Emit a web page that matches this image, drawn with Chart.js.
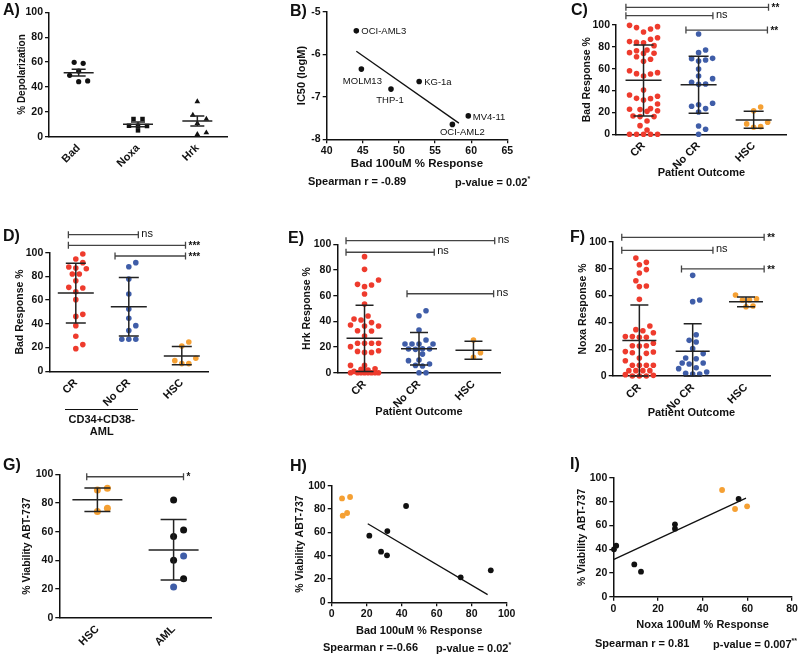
<!DOCTYPE html>
<html>
<head>
<meta charset="utf-8">
<script src="https://cdn.jsdelivr.net/npm/chart.js@4.4.1/dist/chart.umd.min.js"></script>
<style>
  body { margin: 0; background: #fff; width: 800px; height: 655px; position: relative; overflow: hidden;
         font-family: 'Liberation Sans', Arial, sans-serif; color: #111; }
  canvas { position: absolute; }
  .t { position: absolute; white-space: nowrap; line-height: 1; font-weight: bold; }
  .t sup { font-size: 7px; vertical-align: 5px; }
</style>
</head>
<body>
<script>
// ---- A) % depolarization per peptide
const aCats = ['Bad', 'Noxa', 'Hrk'];
const aBad = [59.8, 59.0, 52.8, 49.3, 44.2, 44.8];
const aNoxa = [8.8, 14.2, 14.2, 5.1, 8.6, 8.8];
const aHrk = [28.2, 17.4, 14.2, 10.7, 1.9, 3.2];
const aMean = [51.5, 10.0, 12.6];
const aHi = [54.2, 11.8, 16.6];
const aLo = [48.8, 8.0, 8.6];

// ---- B) cell lines, IC50 vs Bad response
const bLines = ['OCI-AML3', 'MOLM13', 'THP-1', 'KG-1a', 'MV4-11', 'OCI-AML2'];
const bBad = [44.1, 44.8, 48.9, 52.8, 59.6, 57.4];
const bIC50 = [-5.45, -6.35, -6.82, -6.64, -7.45, -7.65];
const bFitX = [44.1, 58.3];
const bFitY = [-5.93, -7.62];

// ---- C) Bad response by patient outcome
const outcomeCats = ['CR', 'No CR', 'HSC'];
const cCR = [98.5, 96.3, 93.6, 97.6, 99.7, 88.4, 84.8, 83.8, 84.1, 86.9, 81.1, 74.7, 74.1, 76.5, 71.0, 77.1,
  74.0, 68.6, 66.8, 56.4, 55.5, 53.4, 55.2, 58.2, 40.5, 36.0, 32.6, 31.4, 27.7, 32.9, 34.8, 23.5, 22.6, 21.0,
  21.6, 22.9, 16.8, 16.2, 16.2, 12.2, 7.9, 4.0, 0, 0, 0, 0, 0];
const cNoCR = [91.8, 77.1, 74.7, 69.5, 67.1, 68.0, 69.2, 59.8, 50.9, 53.4, 47.6, 46.0, 45.7, 28.4, 27.1, 25.6,
  23.5, 20.4, 7.6, 4.6, 0];
const cHSC = [25.0, 21.6, 9.5, 11.0, 7.0, 6.4];
const cMean = [49.4, 45.4, 13.1];
const cHi = [81.7, 71.5, 21.0];
const cLo = [16.8, 19.2, 5.5];

// ---- D) Bad response, CD34+CD38- AML
const dCR = [98.9, 94.7, 91.6, 87.9, 86.5, 87.1, 82.0, 82.0, 76.4, 70.8, 70.2, 67.1, 60.4, 48.0, 46.3, 38.5,
  29.5, 22.5, 19.1];
const dNoCR = [91.6, 88.2, 77.8, 65.2, 52.5, 44.7, 38.5, 34.3, 27.0, 27.0, 27.0];
const dHSC = [24.7, 21.3, 9.0, 11.0, 6.5, 6.5];
const dMean = [66.0, 54.5, 13.0];
const dHi = [91.0, 79.0, 21.0];
const dLo = [40.7, 29.8, 5.5];

// ---- E) Hrk response
const eCR = [90.4, 80.5, 68.8, 68.3, 67.0, 72.2, 61.3, 53.5, 41.8, 39.0, 41.0, 44.2, 36.4, 32.5, 32.7, 36.4,
  37.1, 28.6, 22.9, 22.9, 22.9, 22.9, 20.3, 17.1, 15.8, 15.8, 16.6, 5.7, 5.7, 3.1, 2.0, 1.0, 1.5, 2.6,
  0, 0, 0, 0, 0, 0, 0, 0];
const eNoCR = [48.3, 44.4, 33.2, 22.3, 22.3, 22.3, 22.3, 25.5, 18.2, 18.7, 14.5, 18.4, 18.4, 9.9, 9.4, 6.8,
  5.2, 5.7, 0, 0];
const eHSC = [25.5, 15.6, 12.0];
const eMean = [26.8, 18.7, 17.5];
const eHi = [52.5, 31.4, 24.4];
const eLo = [1.0, 6.0, 10.4];

// ---- F) Noxa response
const fCR = [88.0, 84.8, 83.0, 79.4, 76.9, 71.1, 66.7, 67.2, 57.2, 34.6, 33.8, 37.3, 32.3, 29.4, 29.4, 28.9,
  28.9, 22.6, 22.6, 24.4, 22.4, 17.9, 17.4, 16.9, 18.2, 13.4, 11.4, 8, 8, 8, 8, 4, 4, 4, 4, 0.5, 0, 0, 0, 1];
const fNoCR = [75.1, 55.5, 56.7, 30.8, 26.6, 25.4, 20.4, 16.7, 13.4, 12.9, 9.7, 9.7, 9.0, 6.2, 5.5, 3.0, 2.0,
  1.5, 1.5];
const fHSC = [60.4, 56.7, 57.7, 56.7, 51.7, 52.2];
const fMean = [26.4, 18.5, 55.5];
const fHi = [53.0, 39.0, 59.0];
const fLo = [0, 0, 51.7];

// ---- G) % viability ABT-737
const gCats = ['HSC', 'AML'];
const gHSC = [90.2, 89.0, 74.0, 76.3];
const gAML = [82.1, 61.2, 56.7, 43.0, 40.0, 27.2, 21.4];
const gAMLGroup = ['k', 'k', 'k', 'b', 'k', 'k', 'b'];
const gMean = [82.3, 47.2];
const gHi = [90.5, 68.4];
const gLo = [74.0, 26.3];

// ---- H) viability vs Bad response
const hHscX = [5.9, 10.5, 6.3, 8.8];
const hHscY = [89.1, 90.3, 74.3, 76.6];
const hAmlX = [42.5, 31.8, 21.5, 28.2, 31.6, 73.7, 90.9];
const hAmlY = [82.6, 61.1, 57.1, 43.4, 40.3, 21.4, 27.4];
const hFitX = [20.6, 89.1];
const hFitY = [67.4, 6.6];

// ---- I) viability vs Noxa response
const iAmlX = [0.3, 1.3, 27.6, 27.6, 9.4, 12.4, 56.1];
const iAmlY = [39.9, 43.0, 61.0, 57.3, 27.2, 21.1, 82.3];
const iHscX = [48.7, 54.5, 59.9];
const iHscY = [89.9, 73.9, 76.1];
const iFitX = [0.3, 59.4];
const iFitY = [31.5, 83.1];

const RED = '#EE3B2D', BLUE = '#3F5DA8', ORANGE = '#F5A033', INK = '#111';
const FONT = "'Liberation Sans', Arial, sans-serif";
Chart.defaults.font.family = FONT;

// spread points of one column sideways (dot-plot layout), never wider than maxHalf px
function swarm(values, center, pxX, pxY, d, maxHalf) {
  const placed = [];
  const out = new Array(values.length);
  const order = values.map((v, i) => i).sort((a, b) => values[a] - values[b]);
  for (const i of order) {
    const y = values[i] * pxY;
    let best = 0, bestGap = -1;
    for (let k = 0; k < 100; k++) {
      const o = (k % 2 ? 1 : -1) * Math.ceil(k / 2) * d * 0.5;
      if (Math.abs(o) > maxHalf) break;
      const gap = placed.reduce((m, p) => Math.min(m, (p.x - o) ** 2 + (p.y - y) ** 2), Infinity);
      if (gap >= d * d * 0.95) { best = o; break; }
      if (gap > bestGap) { bestGap = gap; best = o; }
    }
    placed.push({ x: best, y });
    out[i] = { x: center + best / pxX, y: values[i] };
  }
  return out;
}

const pts = (xs, ys) => xs.map((x, i) => ({ x, y: ys[i] }));
const stats = (m, hi, lo) => m.map((v, i) => ({ x: i, mean: v, hi: hi[i], lo: lo[i] }));

// mean/SD bars, significance brackets and point labels
const extras = {
  id: 'extras',
  afterDatasetsDraw(chart, args, o) {
    const ctx = chart.ctx, xs = chart.scales.x, ys = chart.scales.y;
    ctx.save();
    (o.errors || []).forEach(e => {
      const cx = xs.getPixelForValue(e.x);
      const m = ys.getPixelForValue(e.mean), hi = ys.getPixelForValue(e.hi), lo = ys.getPixelForValue(e.lo);
      ctx.strokeStyle = '#222';
      ctx.lineWidth = 1.5;
      ctx.beginPath();
      ctx.moveTo(cx - o.meanHalf, m); ctx.lineTo(cx + o.meanHalf, m);
      ctx.moveTo(cx, hi); ctx.lineTo(cx, lo);
      ctx.moveTo(cx - o.capHalf, hi); ctx.lineTo(cx + o.capHalf, hi);
      ctx.moveTo(cx - o.capHalf, lo); ctx.lineTo(cx + o.capHalf, lo);
      ctx.stroke();
    });
    (o.brackets || []).forEach(b => {
      const x1 = xs.getPixelForValue(b.x1), x2 = xs.getPixelForValue(b.x2), y = ys.getPixelForValue(b.y);
      ctx.strokeStyle = '#444';
      ctx.lineWidth = 1.3;
      ctx.beginPath();
      ctx.moveTo(x1, y); ctx.lineTo(x2, y);
      ctx.moveTo(x1, y - 3.5); ctx.lineTo(x1, y + 3.5);
      ctx.moveTo(x2, y - 3.5); ctx.lineTo(x2, y + 3.5);
      ctx.stroke();
      ctx.fillStyle = INK;
      ctx.textBaseline = 'middle';
      ctx.textAlign = 'left';
      ctx.font = b.text === 'ns' ? '11px ' + FONT : 'bold 10px ' + FONT;
      ctx.fillText(b.text, x2 + 3, b.text === 'ns' ? y - 1 : y + 1);
    });
    if (o.labels) {
      const meta = chart.getDatasetMeta(0);
      ctx.fillStyle = INK;
      ctx.font = '9.5px ' + FONT;
      ctx.textBaseline = 'middle';
      o.labels.forEach((l, i) => {
        const el = meta.data[i];
        ctx.textAlign = l.align;
        ctx.fillText(o.names[i], el.x + l.dx, el.y + l.dy);
      });
    }
    ctx.restore();
  }
};
Chart.register(extras);

function panel(p) {
  const [cx, cy, cw, ch] = p.box;
  const [L, T, R, B] = p.area;
  const cv = document.createElement('canvas');
  cv.width = cw; cv.height = ch;
  cv.style.left = cx + 'px'; cv.style.top = cy + 'px';
  document.body.appendChild(cv);

  const tickFont = { size: 10.5, weight: 'bold' };
  const yt = p.yTitle, xt = p.xTitle;
  const axisLine = { display: true, color: INK, width: 1.5 };
  const tickGrid = { display: true, drawOnChartArea: false, drawTicks: true, tickLength: 4, color: INK, lineWidth: 1.3 };

  const x = p.cats ? {
    type: 'linear', min: p.xmin, max: p.xmax,
    afterBuildTicks: s => { s.ticks = p.cats.map((c, i) => ({ value: i })); },
    ticks: { callback: v => p.cats[v], minRotation: 45, maxRotation: 45, autoSkip: false,
             font: { size: 11, weight: 'bold' }, color: INK, padding: -3 },
    grid: { display: false }, border: axisLine
  } : {
    type: 'linear', min: p.xmin, max: p.xmax,
    ticks: { stepSize: p.xstep, font: tickFont, color: INK, padding: 2 },
    grid: tickGrid, border: axisLine
  };
  x.afterFit = s => { s.height = cy + ch - B; s.paddingLeft = 0; s.paddingRight = 0; };
  if (xt) {
    x.title = { display: true, text: xt.text, color: INK, font: { size: xt.size, weight: 'bold' },
                padding: { top: 0, bottom: cy + ch - xt.y - xt.size * 0.6 } };
  }

  const y = {
    type: 'linear', min: p.ymin, max: p.ymax,
    ticks: { stepSize: p.ystep, font: tickFont, color: INK, padding: 2 },
    grid: tickGrid, border: axisLine,
    afterFit: s => { s.width = L - cx; s.paddingTop = 0; s.paddingBottom = 0; },
    title: { display: true, text: yt.text, color: INK, font: { size: yt.size, weight: 'bold' },
             padding: { top: yt.x - cx - yt.size * 0.6, bottom: 0 } }
  };

  return new Chart(cv, {
    type: 'scatter',
    data: { datasets: p.datasets },
    options: {
      responsive: false,
      animation: false,
      layout: { padding: { left: 0, top: T - cy, right: cx + cw - R, bottom: 0 } },
      plugins: { legend: { display: false }, tooltip: { enabled: false }, extras: p.extras || {} },
      scales: { x, y }
    }
  });
}

function dots(data, color, r, style) {
  return { data, backgroundColor: color, borderColor: color, pointRadius: r, pointBorderWidth: 0,
           pointStyle: style || 'circle', clip: false };
}
function fit(xs, ys) {
  return { data: pts(xs, ys), showLine: true, borderColor: INK, borderWidth: 1.3, pointRadius: 0, clip: false };
}
function columns(groups, colors, pxX, pxY) {
  return groups.map((g, i) => dots(swarm(g, i, pxX, pxY, 7, i === 0 ? 16 : 14), colors[i], 2.8));
}

// A
panel({
  box: [0, 0, 250, 175], area: [49, 12.3, 227, 136.7],
  cats: aCats, xmin: -0.5, xmax: 2.5, ymin: 0, ymax: 100, ystep: 20,
  yTitle: { text: '% Depolarization', x: 22, size: 10 },
  datasets: [
    dots(swarm(aBad, 0, 59.3, 1.244, 9, 9), INK, 2.6, 'circle'),
    dots(swarm(aNoxa, 1, 59.3, 1.244, 9, 9), INK, 3.2, 'rect'),
    dots(swarm(aHrk, 2, 59.3, 1.244, 9, 9), INK, 3.3, 'triangle')
  ],
  extras: { errors: stats(aMean, aHi, aLo), meanHalf: 15, capHalf: 7 }
});

// B
panel({
  box: [260, 0, 270, 175], area: [326.7, 11.7, 507.3, 139.3],
  xmin: 40, xmax: 65, xstep: 5, ymin: -8, ymax: -5, ystep: 1,
  xTitle: { text: 'Bad 100uM % Response', y: 164, size: 11.5 },
  yTitle: { text: 'IC50 (logM)', x: 302, size: 11 },
  datasets: [dots(pts(bBad, bIC50), INK, 2.8), fit(bFitX, bFitY)],
  extras: {
    names: bLines,
    labels: [
      { dx: 5, dy: 1, align: 'left' }, { dx: 1, dy: 12, align: 'center' }, { dx: -1, dy: 11, align: 'center' },
      { dx: 5, dy: 1, align: 'left' }, { dx: 4.5, dy: 1, align: 'left' }, { dx: 10, dy: 7.5, align: 'center' }
    ]
  }
});

// C
panel({
  box: [530, 0, 270, 185], area: [616, 25, 786.7, 134.3],
  cats: outcomeCats, xmin: -0.5, xmax: 2.6, ymin: 0, ymax: 100, ystep: 20,
  xTitle: { text: 'Patient Outcome', y: 172.7, size: 11 },
  yTitle: { text: 'Bad Response %', x: 586.7, size: 10.5 },
  datasets: columns([cCR, cNoCR, cHSC], [RED, BLUE, ORANGE], 55.06, 1.093),
  extras: {
    errors: stats(cMean, cHi, cLo), meanHalf: 18, capHalf: 10,
    brackets: [
      { x1: -0.32, x2: 2.27, y: 116.2, text: '**' },
      { x1: -0.32, x2: 1.26, y: 108.5, text: 'ns' },
      { x1: 0.77, x2: 2.25, y: 95.4, text: '**' }
    ]
  }
});

// D
panel({
  box: [0, 200, 250, 240], area: [49.3, 252.7, 208.3, 371.3],
  cats: outcomeCats, xmin: -0.5, xmax: 2.5, ymin: 0, ymax: 100, ystep: 20,
  yTitle: { text: 'Bad Response %', x: 20, size: 10.5 },
  datasets: columns([dCR, dNoCR, dHSC], [RED, BLUE, ORANGE], 53, 1.186),
  extras: {
    errors: stats(dMean, dHi, dLo), meanHalf: 18, capHalf: 10,
    brackets: [
      { x1: -0.14, x2: 1.18, y: 115.2, text: 'ns' },
      { x1: -0.14, x2: 2.07, y: 106.2, text: '***' },
      { x1: 0.74, x2: 2.07, y: 97.2, text: '***' }
    ]
  }
});

// E
panel({
  box: [260, 200, 270, 225], area: [337.3, 244.3, 500.7, 372.7],
  cats: outcomeCats, xmin: -0.5, xmax: 2.5, ymin: 0, ymax: 100, ystep: 20,
  xTitle: { text: 'Patient Outcome', y: 411.5, size: 11 },
  yTitle: { text: 'Hrk Response %', x: 306.7, size: 10.5 },
  datasets: columns([eCR, eNoCR, eHSC], [RED, BLUE, ORANGE], 54.4, 1.284),
  extras: {
    errors: stats(eMean, eHi, eLo), meanHalf: 18, capHalf: 9,
    brackets: [
      { x1: -0.34, x2: 2.39, y: 102.8, text: 'ns' },
      { x1: -0.34, x2: 1.28, y: 93.8, text: 'ns' },
      { x1: 0.78, x2: 2.37, y: 61.5, text: 'ns' }
    ]
  }
});

// F
panel({
  box: [530, 200, 270, 225], area: [612.7, 242, 770, 376],
  cats: outcomeCats, xmin: -0.5, xmax: 2.45, ymin: 0, ymax: 100, ystep: 20,
  xTitle: { text: 'Patient Outcome', y: 413, size: 11 },
  yTitle: { text: 'Noxa Response %', x: 583.3, size: 10.5 },
  datasets: columns([fCR, fNoCR, fHSC], [RED, BLUE, ORANGE], 53.3, 1.34),
  extras: {
    errors: stats(fMean, fHi, fLo), meanHalf: 17, capHalf: 9,
    brackets: [
      { x1: -0.33, x2: 2.34, y: 103.5, text: '**' },
      { x1: -0.33, x2: 1.38, y: 93.8, text: 'ns' },
      { x1: 0.79, x2: 2.34, y: 79.9, text: '**' }
    ]
  }
});

// G
const gAmlDots = dots(swarm(gAML, 1, 76.2, 1.434, 10, 12), INK, 3.5);
gAmlDots.backgroundColor = gAMLGroup.map(g => g === 'b' ? BLUE : INK);
gAmlDots.borderColor = gAmlDots.backgroundColor;
panel({
  box: [0, 440, 250, 215], area: [59.3, 474.3, 211.7, 617.7],
  cats: gCats, xmin: -0.5, xmax: 1.5, ymin: 0, ymax: 100, ystep: 20,
  yTitle: { text: '% Viability ABT-737', x: 26.7, size: 10.5 },
  datasets: [dots(swarm(gHSC, 0, 76.2, 1.434, 10, 12), ORANGE, 3.5), gAmlDots],
  extras: {
    errors: stats(gMean, gHi, gLo), meanHalf: 25, capHalf: 13,
    brackets: [{ x1: -0.14, x2: 1.13, y: 98.3, text: '*' }]
  }
});

// H
panel({
  box: [260, 440, 270, 215], area: [331.7, 485.7, 506.7, 602.3],
  xmin: 0, xmax: 100, xstep: 20, ymin: 0, ymax: 100, ystep: 20,
  xTitle: { text: 'Bad 100uM % Response', y: 630.7, size: 11 },
  yTitle: { text: '% Viability ABT-737', x: 300, size: 10.5 },
  datasets: [dots(pts(hHscX, hHscY), ORANGE, 2.9), dots(pts(hAmlX, hAmlY), INK, 2.9), fit(hFitX, hFitY)]
});

// I
panel({
  box: [530, 440, 270, 215], area: [613.3, 478, 792, 596.7],
  xmin: 0, xmax: 80, xstep: 20, ymin: 0, ymax: 100, ystep: 20,
  xTitle: { text: 'Noxa 100uM % Response', y: 625.3, size: 11 },
  yTitle: { text: '% Viability ABT-737', x: 581.7, size: 10.5 },
  datasets: [dots(pts(iHscX, iHscY), ORANGE, 2.9), dots(pts(iAmlX, iAmlY), INK, 2.9), fit(iFitX, iFitY)]
});

// panel letters and notes
function txt(html, x, y, size, align) {
  const d = document.createElement('div');
  d.className = 't';
  d.innerHTML = html;
  d.style.left = x + 'px';
  d.style.top = y + 'px';
  d.style.fontSize = size + 'px';
  d.style.transform = align === 'center' ? 'translate(-50%,-50%)' : 'translate(0,-50%)';
  document.body.appendChild(d);
}
[['A)', 3, 10], ['B)', 290, 11], ['C)', 571, 10], ['D)', 3, 236], ['E)', 288, 238],
 ['F)', 570, 237], ['G)', 3, 465], ['H)', 290, 466], ['I)', 570, 464]]
  .forEach(([s, x, y]) => txt(s, x, y, 16));

txt('Spearman r = -0.89', 308, 181, 11);
txt('p-value = 0.02<sup>*</sup>', 455, 181, 11);
txt('Spearman r =-0.66', 323, 647, 11);
txt('p-value = 0.02<sup>*</sup>', 436, 647, 11);
txt('Spearman r = 0.81', 595, 643, 11);
txt('p-value = 0.007<sup>**</sup>', 713, 643, 11);

const rule = document.createElement('div');
rule.style.cssText = 'position:absolute;left:65px;top:409px;width:73px;border-top:1px solid #111';
document.body.appendChild(rule);
txt('CD34+CD38-', 101.7, 419, 11, 'center');
txt('AML', 101.7, 431, 11, 'center');
</script>
</body>
</html>
